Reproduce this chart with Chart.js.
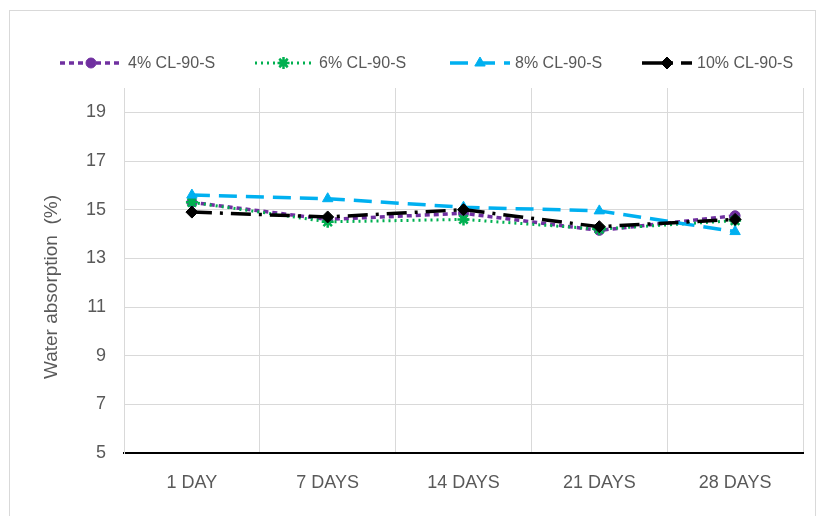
<!DOCTYPE html>
<html>
<head>
<meta charset="utf-8">
<script src="https://cdn.jsdelivr.net/npm/chart.js@4.4.1/dist/chart.umd.min.js"></script>
<style>
  body { margin: 0; background: #fff; }
  #frame { position: absolute; left: 9px; top: 10px; width: 805px; height: 520px; border: 1px solid #d9d9d9; }
  canvas { position: absolute; left: 0; top: 0; }
</style>
</head>
<body>
<div id="frame"></div>
<canvas id="absorptionChart" width="828" height="516"></canvas>
<script>
// Curing ages
const ages = ["1 DAY", "7 DAYS", "14 DAYS", "21 DAYS", "28 DAYS"];

// Water absorption (%) per mix
const cl4 = [15.3, 14.6, 14.85, 14.15, 14.75];
const cl6 = [15.3, 14.5, 14.6, 14.2, 14.55];
const cl8 = [15.6, 15.45, 15.1, 14.95, 14.1];
const cl10 = [14.9, 14.7, 15.0, 14.3, 14.6];

const seriesNames = ["4% CL-90-S", "6% CL-90-S", "8% CL-90-S", "10% CL-90-S"];
const yTicks = [5, 7, 9, 11, 13, 15, 17, 19];

const textColor = "#595959";
const gridColor = "#d9d9d9";
const fontFamily = "'Liberation Sans', Arial, sans-serif";

// Legend drawn by hand so each entry shows its line style and marker
const legendSlots = [
  { x0: 60, x1: 122, tx: 128 },
  { x0: 255, x1: 312, tx: 319 },
  { x0: 450, x1: 510, tx: 515 },
  { x0: 642, x1: 692, tx: 697 }
];

const excelLegend = {
  id: "excelLegend",
  afterDraw(chart) {
    const ctx = chart.ctx;
    const y = 63;
    chart.data.datasets.forEach((ds, i) => {
      const slot = legendSlots[i];
      ctx.save();
      ctx.strokeStyle = ds.borderColor;
      ctx.lineWidth = ds.borderWidth;
      ctx.setLineDash(ds.borderDash);
      ctx.lineCap = "butt";
      ctx.beginPath();
      ctx.moveTo(slot.x0, y);
      ctx.lineTo(slot.x1, y);
      ctx.stroke();
      ctx.setLineDash([]);
      ctx.fillStyle = ds.pointBackgroundColor;
      ctx.strokeStyle = ds.pointBorderColor;
      ctx.lineWidth = ds.pointBorderWidth;
      Chart.helpers.drawPoint(ctx, {
        pointStyle: ds.pointStyle,
        radius: ds.pointRadius,
        borderWidth: ds.pointBorderWidth,
        rotation: 0
      }, (slot.x0 + slot.x1) / 2, y);
      ctx.fillStyle = textColor;
      ctx.font = "16px " + fontFamily;
      ctx.textBaseline = "middle";
      ctx.textAlign = "left";
      ctx.fillText(seriesNames[i], slot.tx, y + 1);
      ctx.restore();
    });
  }
};

// Y axis title, placed where Excel centres it
const yTitle = {
  id: "yTitle",
  afterDraw(chart) {
    const ctx = chart.ctx;
    ctx.save();
    ctx.translate(52, 287);
    ctx.rotate(-Math.PI / 2);
    ctx.fillStyle = textColor;
    ctx.font = "19px " + fontFamily;
    ctx.textAlign = "center";
    ctx.textBaseline = "middle";
    ctx.fillText("Water absorption  (%)", 0, 0);
    ctx.restore();
  }
};

function series(label, data, color, dash, style, radius, width, order) {
  return {
    label: label,
    data: data,
    borderColor: color,
    backgroundColor: color,
    borderWidth: width,
    borderDash: dash,
    pointStyle: style,
    pointRadius: radius,
    pointHoverRadius: radius,
    pointBackgroundColor: color,
    pointBorderColor: color,
    pointBorderWidth: style === "star" ? 2.5 : 1,
    tension: 0,
    fill: false,
    order: order
  };
}

const ctx = document.getElementById("absorptionChart").getContext("2d");

new Chart(ctx, {
  type: "line",
  data: {
    labels: ages,
    datasets: [
      series(seriesNames[0], cl4, "#7030A0", [5, 4], "circle", 5, 3.5, 4),
      series(seriesNames[1], cl6, "#00B050", [2, 4], "star", 6, 3, 3),
      series(seriesNames[2], cl8, "#00B0F0", [18, 9], "triangle", 6, 3.5, 2),
      series(seriesNames[3], cl10, "#000000", [20, 8, 3, 8], "rectRot", 6, 3.5, 1)
    ]
  },
  options: {
    responsive: false,
    animation: false,
    layout: { padding: { top: 88, right: 25, bottom: 0, left: 0 } },
    plugins: {
      legend: { display: false },
      tooltip: { enabled: false }
    },
    scales: {
      x: {
        offset: true,
        grid: { offset: true, color: gridColor, lineWidth: 1, drawTicks: false },
        border: { color: "#000000", width: 2 },
        ticks: { color: textColor, padding: 19, font: { family: fontFamily, size: 18 } },
        afterFit: s => { s.height = 63; }
      },
      y: {
        min: 5,
        max: 20,
        grid: { color: gridColor, lineWidth: 1, drawTicks: false },
        border: { color: gridColor, width: 1 },
        ticks: { color: textColor, padding: 18, font: { family: fontFamily, size: 18 } },
        afterBuildTicks: s => { s.ticks = yTicks.map(v => ({ value: v })); },
        afterFit: s => { s.width = 124; }
      }
    }
  },
  plugins: [excelLegend, yTitle]
});
</script>
</body>
</html>
